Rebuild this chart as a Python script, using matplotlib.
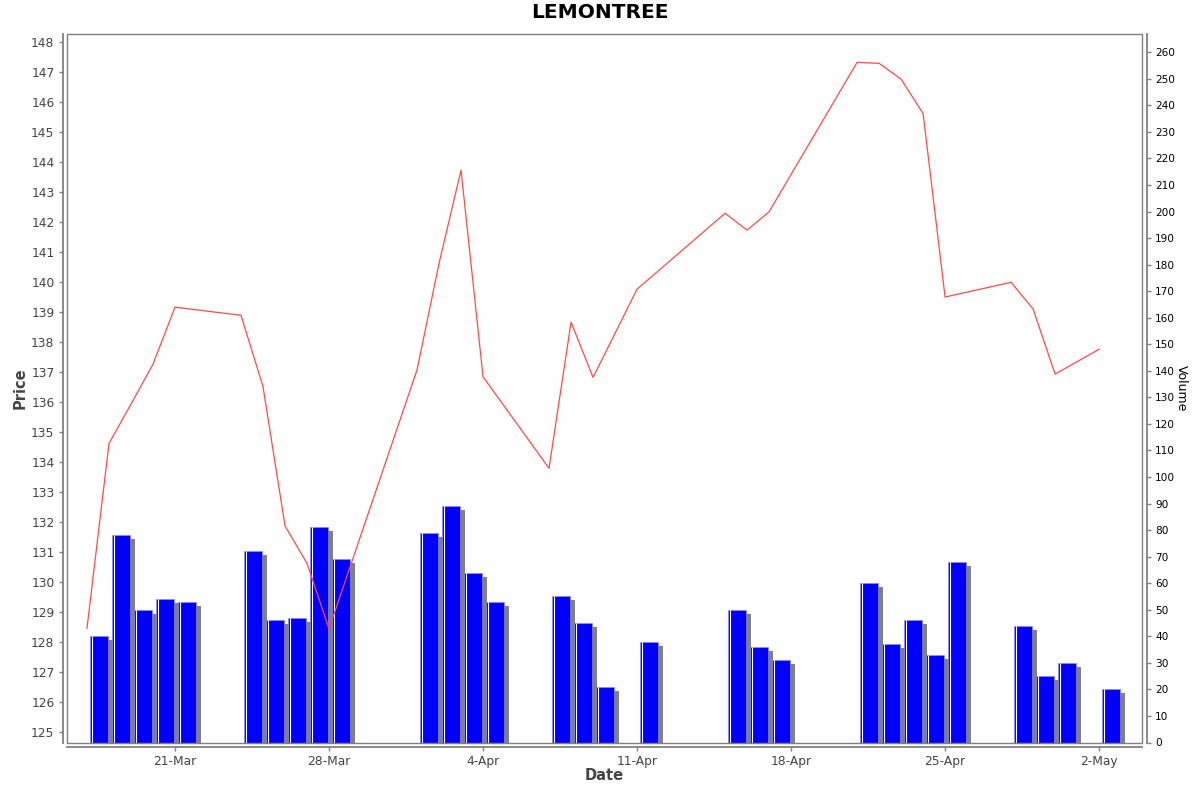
import datetime as dt
import matplotlib
matplotlib.use("Agg")
import matplotlib.pyplot as plt
import matplotlib.dates as mdates
from matplotlib.patches import Rectangle
from matplotlib.ticker import MultipleLocator, FuncFormatter, FixedLocator

# -------------------------------
# DATA
# -------------------------------

trade_dates = [
    "2025-03-17", "2025-03-18", "2025-03-19", "2025-03-20", "2025-03-21",
    "2025-03-24", "2025-03-25", "2025-03-26", "2025-03-27", "2025-03-28",
    "2025-04-01", "2025-04-02", "2025-04-03", "2025-04-04",
    "2025-04-07", "2025-04-08", "2025-04-09", "2025-04-11",
    "2025-04-15", "2025-04-16", "2025-04-17",
    "2025-04-21", "2025-04-22", "2025-04-23", "2025-04-24", "2025-04-25",
    "2025-04-28", "2025-04-29", "2025-04-30", "2025-05-02",
]

close_price = [
    128.45, 134.61, 135.92, 137.25, 139.15,
    138.88, 136.50, 131.86, 130.61, 128.43,
    137.06, 140.61, 143.72, 136.83,
    133.78, 138.65, 136.81, 139.75,
    142.28, 141.72, 142.33,
    147.31, 147.28, 146.75, 145.61, 139.49,
    139.98, 139.09, 136.92, 137.75,
]

volume = [
    40, 78, 50, 54, 53,
    72, 46, 47, 81, 69,
    79, 89, 64, 53,
    55, 45, 21, 38,
    50, 36, 31,
    60, 37, 46, 33, 68,
    44, 25, 30, 20,
]

title = "LEMONTREE"
first_tick = "2025-03-21"
n_ticks = 7

# -------------------------------
# PLOT
# -------------------------------

W, H = 1200, 792
dates = [dt.datetime.strptime(d, "%Y-%m-%d") for d in trade_dates]
xnum = mdates.date2num(dates)
grey = "#808080"
txt = "#444444"

fig = plt.figure(figsize=(W / 100, H / 100), dpi=100)
fig.patch.set_facecolor("white")

# plot area in pixels: x 67..1142, y 34..742.5
ax = fig.add_axes([67 / W, (H - 742.5) / H, 1075 / W, 708.5 / H])
ax_vol = ax.twinx()
ax.set_zorder(ax_vol.get_zorder() + 1)
ax.patch.set_visible(False)

# volume bars with drop shadow and highlight stripe
bar_off, bar_w = 0.15, 0.80
ax_vol.bar(xnum + bar_off + 0.22, [v - 1.5 for v in volume], width=bar_w,
           align="edge", color=grey, zorder=1)
ax_vol.bar(xnum + bar_off, volume, width=bar_w, align="edge", color="#0000ff",
           edgecolor="#8c8cff", linewidth=0.5, zorder=2)
ax_vol.vlines(xnum + bar_off + 0.07, 0, volume, color="white", linewidth=0.8, zorder=3)

# price line
ax.plot(xnum, close_price, color="#ff4a4a", linewidth=0.9, zorder=5)

start_dt = dt.datetime.strptime(first_tick, "%Y-%m-%d")
start = mdates.date2num(start_dt)
ax.set_xlim(start - 4.909, start + 43.95)
ax.set_ylim(124.64, 148.257)
ax_vol.set_ylim(0, 266.9)

# ticks: weekly from the first tick date
week_ticks = [mdates.date2num(start_dt + dt.timedelta(days=7 * k)) for k in range(n_ticks)]
ax.xaxis.set_major_locator(FixedLocator(week_ticks))
ax.xaxis.set_major_formatter(FuncFormatter(
    lambda v, p: f"{mdates.num2date(v).day}-{mdates.num2date(v).strftime('%b')}"))
ax.yaxis.set_major_locator(MultipleLocator(1))
ax.yaxis.set_major_formatter(FuncFormatter(lambda v, p: f"{v:.0f}"))
ax_vol.yaxis.set_major_locator(MultipleLocator(10))

ax.tick_params(axis="both", colors=grey, labelcolor=txt, labelsize=8.8,
               length=3, width=1, direction="out", pad=3)
ax_vol.tick_params(axis="y", colors=grey, labelcolor="black", labelsize=7.6,
                   length=3, width=1, direction="out", pad=3)

# axis lines offset from the plot border
for a in (ax, ax_vol):
    for s in a.spines.values():
        s.set_visible(False)
ax.spines["left"].set_visible(True)
ax.spines["left"].set_position(("outward", 3))
ax.spines["bottom"].set_visible(True)
ax.spines["bottom"].set_position(("outward", 3.3))
ax_vol.spines["right"].set_visible(True)
ax_vol.spines["right"].set_position(("outward", 3.4))
for s in (ax.spines["left"], ax.spines["bottom"], ax_vol.spines["right"]):
    s.set_color(grey)
    s.set_linewidth(1.3)

# plot border
ax.add_patch(Rectangle((0, 0), 1, 1, transform=ax.transAxes, fill=False,
                       edgecolor=grey, linewidth=1.0, zorder=10, clip_on=False))

# texts
fig.text(600 / W, 1 - 13 / H, title, ha="center", va="center",
         fontsize=14.5, fontweight="bold", color="black")
fig.text(20 / W, 1 - 388 / H, "Price", ha="center", va="center", rotation=90,
         fontsize=10.5, fontweight="bold", color=txt)
fig.text(604 / W, 1 - 776 / H, "Date", ha="center", va="center",
         fontsize=10.5, fontweight="bold", color=txt)
fig.text(1181 / W, 1 - 388 / H, "Volume", ha="center", va="center", rotation=270,
         fontsize=9, color="black")

fig.savefig("out.png", dpi=100)
